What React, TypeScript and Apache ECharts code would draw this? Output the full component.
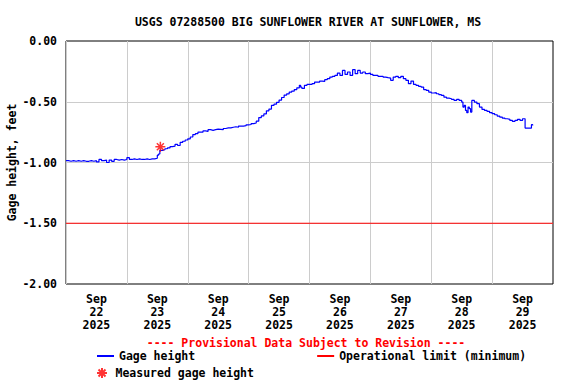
import React, { useEffect, useRef } from "react";
import * as echarts from "echarts";

const TITLE = "USGS 07288500 BIG SUNFLOWER RIVER AT SUNFLOWER, MS";
const PROVISIONAL = "---- Provisional Data Subject to Revision ----";
const Y_NAME = "Gage height, feet";
const START_UTC = Date.UTC(2025, 8, 22);
const DAYS = 8;
const dayLabels = ["Sep\n22\n2025", "Sep\n23\n2025", "Sep\n24\n2025", "Sep\n25\n2025", "Sep\n26\n2025", "Sep\n27\n2025", "Sep\n28\n2025", "Sep\n29\n2025"];

// [hours since Sep 22 00:00, gage height in feet]
const gageHeight: [number, number][] = [
  [0, -0.985], [1, -0.99], [2, -0.985], [3, -0.99], [4, -0.985], [5, -0.99], [6, -0.985], [7, -0.99],
  [8, -0.99], [9, -0.985], [10, -0.99], [11, -0.985], [12, -0.995], [13, -0.975], [14, -0.985], [15, -0.98],
  [16, -1.0], [17, -0.98], [18, -0.99], [19, -0.975], [20, -0.98], [21, -0.975], [22, -0.98], [23, -0.975],
  [24, -0.96], [25, -0.975], [26, -0.97], [27, -0.975], [28, -0.97], [29, -0.975], [30, -0.975], [31, -0.97],
  [32, -0.975], [33, -0.97], [34, -0.97], [35, -0.965], [36, -0.94], [36.5, -0.93], [37, -0.9], [38, -0.895],
  [39, -0.887], [40, -0.88], [41, -0.87], [42, -0.865], [43, -0.85], [44, -0.86], [45, -0.835], [46, -0.825],
  [47, -0.815], [48, -0.805], [49, -0.79], [50, -0.77], [51, -0.763], [52, -0.75], [53, -0.75], [54, -0.74],
  [55, -0.744], [56, -0.73], [57, -0.735], [58, -0.73], [59, -0.725], [60, -0.727], [61, -0.73], [62, -0.72],
  [63, -0.715], [64, -0.715], [65, -0.71], [66, -0.706], [67, -0.71], [68, -0.7], [69, -0.7], [70, -0.697],
  [71, -0.69], [72, -0.687], [73, -0.68], [74, -0.675], [75, -0.66], [76, -0.63], [77, -0.617], [78, -0.6],
  [79, -0.575], [80, -0.56], [81, -0.53], [82, -0.52], [83, -0.505], [84, -0.486], [85, -0.465], [86, -0.445],
  [87, -0.435], [88, -0.42], [89, -0.412], [90, -0.4], [91, -0.385], [92, -0.365], [92.5, -0.38], [93, -0.39],
  [94, -0.365], [95, -0.357], [96, -0.357], [97, -0.351], [98, -0.338], [99, -0.338], [100, -0.33], [101, -0.333],
  [102, -0.318], [103, -0.31], [104, -0.297], [105, -0.291], [106, -0.283], [107, -0.264], [108, -0.283], [109, -0.242],
  [110, -0.275], [111, -0.255], [112, -0.283], [113, -0.236], [114, -0.269], [115, -0.242], [116, -0.264], [117, -0.255],
  [118, -0.269], [119, -0.264], [120, -0.275], [121, -0.283], [122, -0.283], [123, -0.291], [124, -0.291], [125, -0.297],
  [126, -0.302], [127, -0.305], [128, -0.324], [129, -0.297], [130, -0.291], [131, -0.302], [132, -0.291], [133, -0.31],
  [134, -0.324], [135, -0.351], [136, -0.33], [137, -0.357], [138, -0.365], [139, -0.373], [140, -0.379], [141, -0.4],
  [142, -0.406], [143, -0.42], [144, -0.428], [145, -0.425], [146, -0.434], [147, -0.442], [148, -0.448], [149, -0.462],
  [150, -0.47], [151, -0.475], [152, -0.481], [153, -0.489], [154, -0.481], [155, -0.489], [156, -0.503], [156.5, -0.544],
  [157, -0.53], [157.5, -0.571], [158, -0.59], [158.5, -0.544], [159, -0.557], [159.5, -0.585], [160, -0.489], [161, -0.503],
  [162, -0.516], [163, -0.544], [164, -0.563], [165, -0.571], [166, -0.58], [167, -0.59], [168, -0.598], [169, -0.607],
  [170, -0.618], [171, -0.626], [172, -0.634], [173, -0.64], [174, -0.645], [175, -0.654], [176, -0.662], [177, -0.654],
  [178, -0.645], [179, -0.654], [180, -0.64], [181, -0.717], [182, -0.717], [183, -0.717], [183.5, -0.689], [184, -0.695],
];

const measuredHours = [37.2];
const measuredFeet = [-0.87];

const operationalLimit = -1.5;
const yTicks = { min: -2, max: 0, interval: 0.5 };

const FONT = "'DejaVu Sans Mono', monospace";
const HOUR = 3600 * 1000;
const ASTERISK = "path://M5 0L5 10M0 5L10 5M1.5 1.5L8.5 8.5M1.5 8.5L8.5 1.5";

export default function App() {
  const ref = useRef<HTMLDivElement>(null);
  useEffect(() => {
    if (!ref.current) return;
    const chart = echarts.init(ref.current, null, { renderer: "svg" });
    const endTime = START_UTC + DAYS * 24 * HOUR;
    const txt = { fontFamily: FONT, fontWeight: "bold" as const, fontSize: 11.5, color: "#000" };
    chart.setOption({
      animation: false,
      useUTC: true,
      backgroundColor: "#fff",
      grid: {
        left: 66, top: 41, width: 487, height: 243,
        outerBoundsMode: "none", containLabel: false,
        show: true, borderColor: "#000", borderWidth: 1, backgroundColor: "transparent",
      },
      graphic: [
        {
          type: "text", x: 308, y: 22, z: 10,
          style: { text: TITLE, textAlign: "center", textVerticalAlign: "middle", font: `bold 11.5px ${FONT}`, fill: "#000" },
        },
        {
          type: "text", x: 306, y: 343, z: 10,
          style: { text: PROVISIONAL, textAlign: "center", textVerticalAlign: "middle", font: `bold 11.5px ${FONT}`, fill: "#ff0000" },
        },
      ],
      legend: [
        {
          data: ["Gage height", "Operational limit (minimum)"],
          left: 91, top: 350, itemWidth: 17, itemHeight: 2, itemGap: 121, padding: [0, 5],
          textStyle: { ...txt },
        },
        {
          data: ["Measured gage height"],
          left: 91, top: 367, itemWidth: 17, itemHeight: 10, padding: [0, 5],
          textStyle: { ...txt },
        },
      ],
      xAxis: [
        {
          type: "time", min: START_UTC, max: endTime, interval: 24 * HOUR,
          axisLine: { show: false }, axisTick: { show: false }, axisLabel: { show: false },
          splitLine: { show: true, showMinLine: false, showMaxLine: false, lineStyle: { color: "#cccccc", width: 1 } },
        },
        {
          type: "category", data: dayLabels, position: "bottom", boundaryGap: true,
          axisLine: { show: false }, axisTick: { show: false }, splitLine: { show: false },
          axisLabel: { ...txt, lineHeight: 13, margin: 8, interval: 0 },
        },
      ],
      yAxis: {
        type: "value", min: yTicks.min, max: yTicks.max, interval: yTicks.interval,
        name: Y_NAME, nameLocation: "middle", nameGap: 48, nameRotate: 90, nameMoveOverlap: false,
        nameTextStyle: { ...txt },
        axisLine: { show: false }, axisTick: { show: false },
        axisLabel: { ...txt, margin: 9, formatter: (v: number) => v.toFixed(2) },
        splitLine: { show: true, showMinLine: false, showMaxLine: false, lineStyle: { color: "#cccccc", width: 1 } },
      },
      series: [
        {
          name: "Gage height", type: "line", xAxisIndex: 0, symbol: "none", step: "end",
          data: gageHeight.map(([h, v]) => [START_UTC + h * HOUR, v]),
          lineStyle: { color: "#0000ff", width: 1.2 }, itemStyle: { color: "#0000ff" }, z: 3,
        },
        {
          name: "Operational limit (minimum)", type: "line", xAxisIndex: 0, symbol: "none",
          data: [[START_UTC, operationalLimit], [endTime, operationalLimit]],
          lineStyle: { color: "#ff0000", width: 1 }, itemStyle: { color: "#ff0000" }, z: 2,
        },
        {
          name: "Measured gage height", type: "scatter", xAxisIndex: 0,
          symbol: ASTERISK, symbolSize: 10, symbolKeepAspect: true,
          data: measuredHours.map((h, i) => [START_UTC + h * HOUR, measuredFeet[i]]),
          itemStyle: { color: "#ff0000", borderColor: "#ff0000", borderWidth: 1.5 }, z: 4,
        },
      ],
    });
    return () => chart.dispose();
  }, []);
  return <div ref={ref} style={{ width: 576, height: 384, position: "absolute", left: 0, top: 0 }} />;
}
